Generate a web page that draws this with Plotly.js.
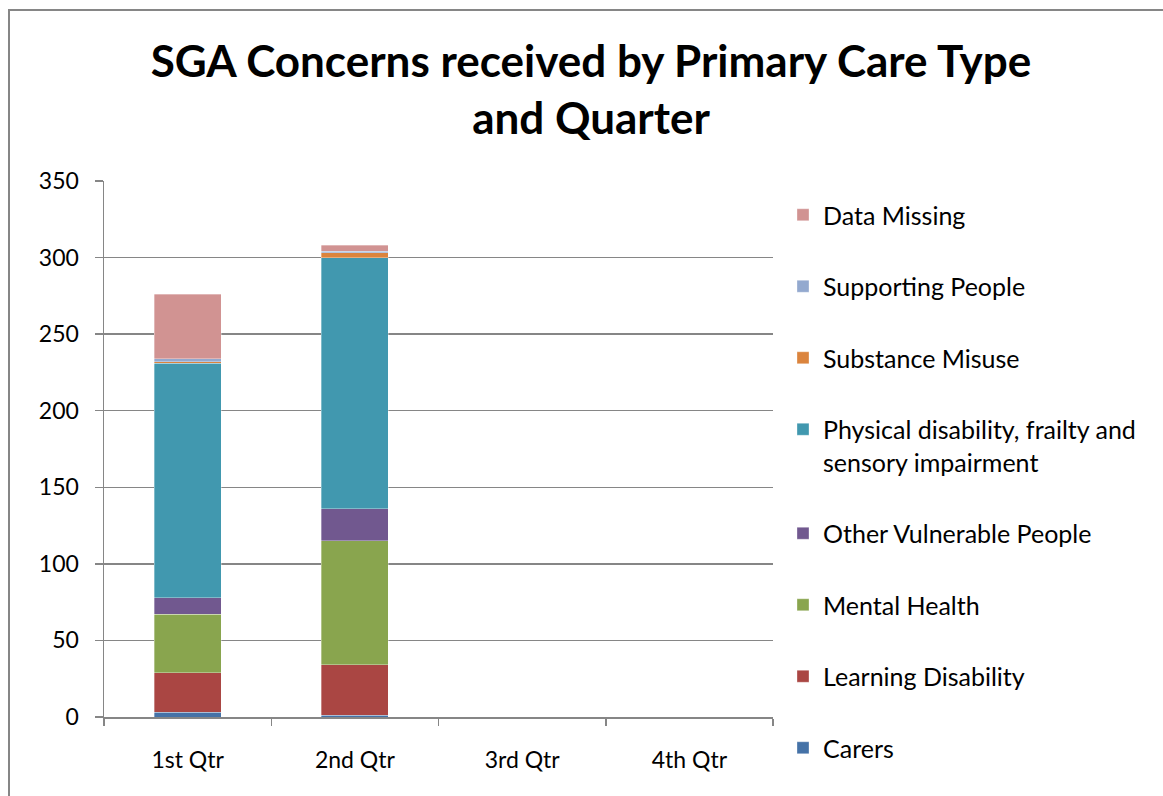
<!DOCTYPE html>
<html>
<head>
<meta charset="utf-8">
<script src="https://cdn.plot.ly/plotly-3.0.1.min.js"></script>
<style>
  html, body { margin: 0; padding: 0; background: #ffffff; overflow: hidden; }
  #chart { position: absolute; left: 0; top: 0; width: 1163px; height: 796px; }
  #frame { position: absolute; left: 8px; top: 9px; width: 2000px; height: 2000px;
           border-left: 2px solid #868686; border-top: 2px solid #868686; pointer-events: none; }
</style>
</head>
<body>
<div id="chart"></div>
<div id="frame"></div>
<script>
const quarters = ["1st Qtr", "2nd Qtr", "3rd Qtr", "4th Qtr"];
const seriesNames = [
  "Carers",
  "Learning Disability",
  "Mental Health",
  "Other Vulnerable People",
  "Physical disability, frailty and<br>sensory impairment",
  "Substance Misuse",
  "Supporting People",
  "Data Missing"
];
const carers            = [3, 1, null, null];
const learningDisability = [26, 33, null, null];
const mentalHealth      = [38, 81, null, null];
const otherVulnerable   = [11, 21, null, null];
const physicalDisability = [153, 164, null, null];
const substanceMisuse   = [1, 3, null, null];
const supportingPeople  = [2, 1, null, null];
const dataMissing       = [42, 4, null, null];
const seriesValues = [carers, learningDisability, mentalHealth, otherVulnerable,
                      physicalDisability, substanceMisuse, supportingPeople, dataMissing];
const colors = ["#4572A7", "#AA4643", "#89A54E", "#71588F", "#4198AF", "#DB843D", "#93A9CF", "#D19392"];

const FONT = "Lato, 'Open Sans', 'DejaVu Sans', sans-serif";

const traces = seriesNames.map((name, i) => ({
  type: "bar",
  name: name,
  x: quarters,
  y: seriesValues[i],
  width: 0.4,
  legendgroup: "g" + i,
  legendrank: 100 - i,
  marker: { color: colors[i], line: { color: "rgba(255,255,255,0.55)", width: 0.6 } },
  hoverinfo: "skip"
}));

const layout = {
  width: 1163,
  height: 796,
  paper_bgcolor: "#ffffff",
  plot_bgcolor: "#ffffff",
  barmode: "stack",
  hovermode: false,
  margin: { l: 104, r: 390, t: 181, b: 79, pad: 0 },
  font: { family: FONT, color: "#000000", size: 23 },
  title: {
    text: "SGA Concerns received by Primary Care Type<br>and Quarter",
    font: { family: FONT, size: 44, color: "#000000", weight: "bold" },
    xref: "container", x: 591 / 1163, xanchor: "center",
    yref: "container", y: 1 - 77 / 796, yanchor: "middle"
  },
  xaxis: {
    type: "category",
    categoryorder: "array",
    categoryarray: quarters,
    range: [-0.5, 3.5],
    showgrid: false,
    zeroline: false,
    showline: true,
    linecolor: "#868686",
    linewidth: 1.5,
    ticks: "outside",
    tickson: "boundaries",
    ticklen: 7,
    tickwidth: 1.5,
    tickcolor: "#868686",
    ticklabelstandoff: 22,
    tickfont: { family: FONT, size: 23, color: "#000000" },
    fixedrange: true
  },
  yaxis: {
    range: [0, 350],
    dtick: 50,
    tick0: 0,
    showgrid: true,
    gridcolor: "#868686",
    gridwidth: 1.5,
    zeroline: false,
    showline: true,
    linecolor: "#868686",
    linewidth: 1.5,
    ticks: "outside",
    ticklen: 8,
    tickwidth: 1.5,
    tickcolor: "#868686",
    ticklabelstandoff: 11,
    tickfont: { family: FONT, size: 23, color: "#000000" },
    fixedrange: true
  },
  legend: {
    traceorder: "grouped",
    tracegroupgap: 36,
    xref: "container", yref: "container",
    x: 783 / 1163, xanchor: "left",
    y: 1 - 192 / 796, yanchor: "top",
    valign: "top",
    maxheight: 700,
    font: { family: FONT, size: 25, color: "#000000" },
    bgcolor: "rgba(0,0,0,0)",
    itemwidth: 30
  },
  showlegend: true
};

Plotly.newPlot("chart", traces, layout, { displayModeBar: false, staticPlot: true });
</script>
</body>
</html>
